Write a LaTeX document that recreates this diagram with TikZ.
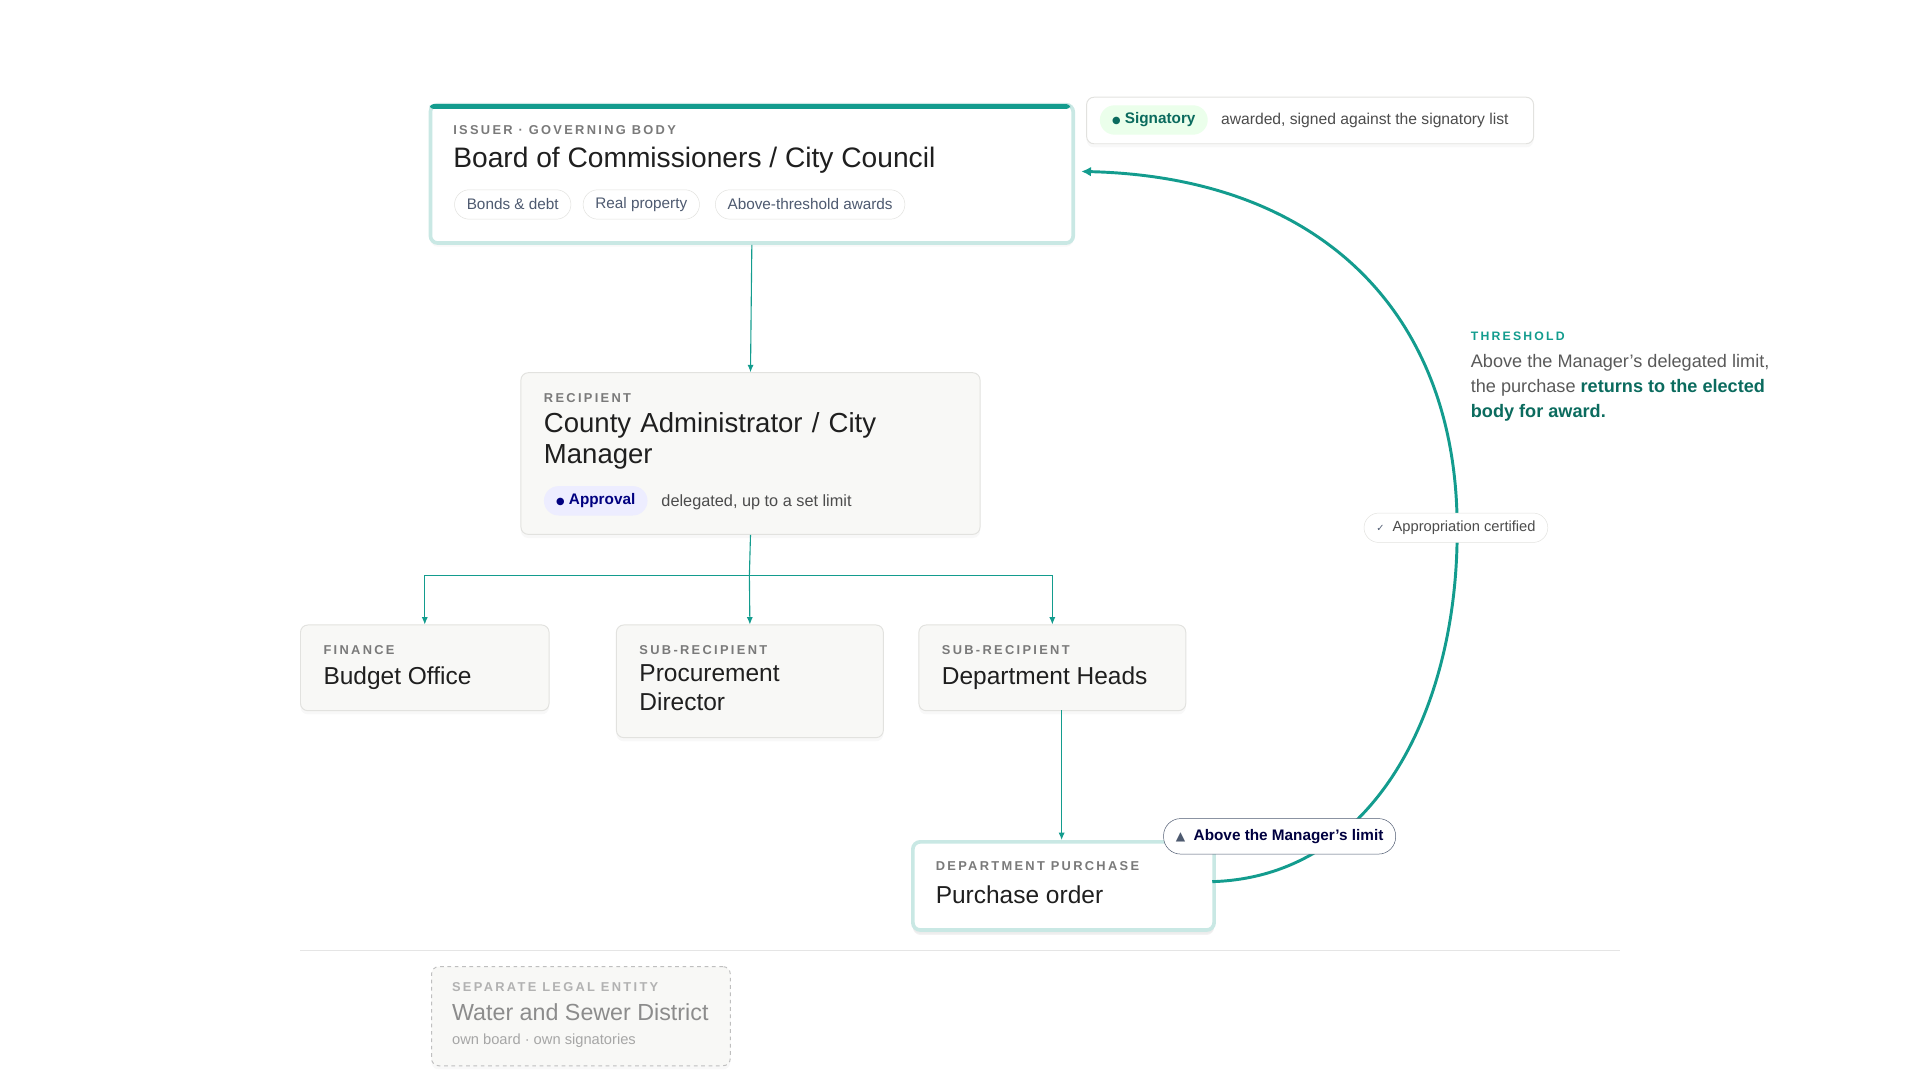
\documentclass[tikz,border=0pt]{standalone}
\usepackage{fontspec}
\setmainfont{Liberation Sans}
\newfontfamily\capsfont[LetterSpace=18]{Liberation Sans}
\newfontfamily\symfont{DejaVu Sans}
\usetikzlibrary{arrows.meta,shadows}
\definecolor{teal}{HTML}{139C8E}
\definecolor{tealdark}{HTML}{0B6B5E}
\definecolor{tealpale}{HTML}{C9E8E4}
\definecolor{cardfill}{HTML}{F8F8F6}
\definecolor{cardline}{HTML}{E2E2DF}
\definecolor{inkgray}{HTML}{7A7A7A}
\definecolor{slate}{HTML}{4E5A70}
\begin{document}
\begin{tikzpicture}[x=1pt,y=-1pt]
\tikzstyle{card} = [rectangle, draw=cardline, fill=cardfill, rounded corners=6pt,
anchor=north west, line width=0.8pt, drop shadow={opacity=0.06, shadow xshift=0pt, shadow yshift=-3pt}]
\tikzstyle{keycard} = [card, draw=tealpale, line width=3pt, fill=white]
\tikzstyle{eyebrow} = [anchor=west, inner sep=0pt, font=\capsfont\bfseries\fontsize{10.5}{12}\selectfont, text=inkgray]
\tikzstyle{title} = [anchor=west, inner sep=0pt, font=\fontsize{20}{23}\selectfont, text=black!88, align=left]
\tikzstyle{tag} = [rectangle, rounded corners=12pt, draw=cardline, fill=white, minimum height=24pt,
inner xsep=10pt, font=\fontsize{12.5}{14}\selectfont, text=slate]
\tikzstyle{note} = [anchor=west, inner sep=0pt, font=\fontsize{13.3}{15}\selectfont, text=black!70]
\tikzstyle{link} = [draw=teal, line width=0.9pt, -{Latex[length=6pt,width=5pt]}]
\tikzstyle{loop} = [draw=teal, line width=2.4pt, -{Latex[length=8pt,width=8pt]}]
\useasboundingbox (0,0) rectangle (1568,882);
% issuer
\node [keycard, minimum width=525pt, minimum height=113pt] (board) at (350,84) {};
\fill [teal, rounded corners=3pt] (351,85) rectangle (874,89);
\node [eyebrow] (boardE) at (370,106) {ISSUER · GOVERNING BODY};
\node [title, font=\fontsize{23}{26}\selectfont] (boardT) at (370,131) {Board of Commissioners / City Council};
\node [tag, anchor=west] (bonds) at (371,167) {Bonds \& debt};
\node [tag, anchor=west] (realp) at (476,167) {Real property};
\node [tag, anchor=west] (above) at (584,167) {Above-threshold awards};
% signatory note
\node [card, draw=cardline, fill=white, minimum width=365pt, minimum height=38pt] (sign) at (887,79) {};
\node [tag, draw=none, fill=green!8, anchor=west, text=tealdark, font=\bfseries\fontsize{12.5}{14}\selectfont] (signP) at (898,98)
{{\symfont\fontsize{8}{9}\selectfont ●}\ Signatory};
\node [note, font=\fontsize{12.8}{14}\selectfont] (signT) at (997,98) {awarded, signed against the signatory list};
% recipient
\node [card, minimum width=375pt, minimum height=132pt] (mgr) at (425,304) {};
\node [eyebrow] (mgrE) at (444,325) {RECIPIENT};
\node [title, anchor=north west, text width=330pt, font=\fontsize{22.5}{25}\selectfont] (mgrT) at (444,337) {County Administrator / City\\Manager};
\node [tag, draw=none, fill=blue!7, anchor=west, text=blue!50!black, font=\bfseries\fontsize{12.5}{14}\selectfont] (mgrP) at (444,409)
{{\symfont\fontsize{8}{9}\selectfont ●}\ Approval};
\node [note] (mgrN) at (540,410) {delegated, up to a set limit};
% finance and sub-recipients
\node [card, minimum width=203pt, minimum height=70pt] (budget) at (245,510) {};
\node [eyebrow] at (264,531) {FINANCE};
\node [title] (budgetT) at (264,554) {Budget Office};
\node [card, minimum width=218pt, minimum height=92pt] (proc) at (503,510) {};
\node [eyebrow] at (522,531) {SUB-RECIPIENT};
\node [title, anchor=north west] (procT) at (522,543) {Procurement\\Director};
\node [card, minimum width=218pt, minimum height=70pt] (heads) at (750,510) {};
\node [eyebrow] at (769,531) {SUB-RECIPIENT};
\node [title] (headsT) at (769,554) {Department Heads};
% purchase
\node [keycard, minimum width=246pt, minimum height=72pt,
drop shadow={opacity=0.10, shadow xshift=0pt, shadow yshift=-4pt}] (po) at (744,686) {};
\node [eyebrow] at (764,707) {DEPARTMENT PURCHASE};
\node [title] (poT) at (764,731) {Purchase order};
% connectors
\path [link] (board.south) -- (mgr.north);
\coordinate (fork) at (612,470);
\draw [link, -] (mgr.south) -- (fork);
\path [link] (fork) -| (budget.north);
\path [link] (fork) -- (proc.north);
\path [link] (fork) -| (heads.north);
\path [link] (867,580) -- (867,686);
\coordinate (poR) at (990,720);
\coordinate (midR) at (1190,431);
\coordinate (bdR) at (883,140);
\draw [teal, line width=2.4pt] (poR) .. controls (1125,716) and (1191,575) .. (midR);
\path [loop] (midR) .. controls (1190,262) and (1085,145) .. (bdR);
\node [tag, fill=white, draw=cardline, font=\fontsize{12}{13}\selectfont, text=black!70] (appr) at (1189,431)
{{\symfont\fontsize{8}{9}\selectfont\textcolor{slate}{✓}}\ \ Appropriation certified};
\node [tag, draw=slate, fill=white, rounded corners=14pt, minimum height=29pt, font=\bfseries\fontsize{12.5}{14}\selectfont, text=black!75!blue] (limit) at (1045,683)
{{\symfont\fontsize{10}{11}\selectfont\textcolor{slate}{▲}}\ \ Above the Manager’s limit};
% threshold note
\node [eyebrow, text=teal, font=\capsfont\bfseries\fontsize{10}{12}\selectfont] (thrE) at (1201,275) {THRESHOLD};
\node [note, anchor=north west, align=left, font=\fontsize{14.8}{20.5}\selectfont, text=black!65] (thrT) at (1201,289)
{Above the Manager’s delegated limit,\\the purchase \textcolor{tealdark}{\bfseries returns to the elected}\\\textcolor{tealdark}{\bfseries body for award.}};
% separate entity
\draw [black!10, line width=0.8pt] (245,776) -- (1323,776);
\node [card, dashed, draw=black!25, drop shadow={opacity=0}, minimum width=244pt, minimum height=81pt] (water) at (352,789) {};
\node [eyebrow, text=black!30] at (369,806) {SEPARATE LEGAL ENTITY};
\node [title, text=black!45, font=\fontsize{19}{22}\selectfont] (waterT) at (369,827) {Water and Sewer District};
\node [note, text=black!35, font=\fontsize{12}{14}\selectfont] (waterN) at (369,850) {own board · own signatories};
\end{tikzpicture}
\end{document}
